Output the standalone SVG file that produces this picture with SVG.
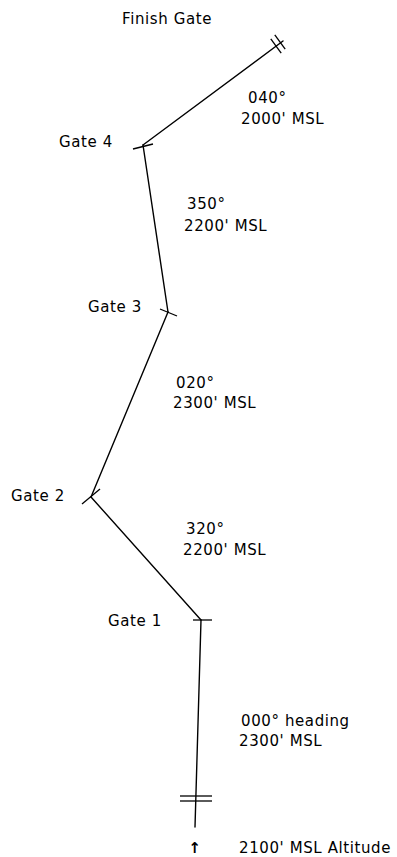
<svg xmlns="http://www.w3.org/2000/svg" width="397" height="857" viewBox="0 0 397 857">
<style>
  .t { font-family: "DejaVu Sans", "Liberation Sans", sans-serif; font-size: 15px; fill: #000; letter-spacing: 0.6px; }
  .leg { stroke: #000; stroke-width: 1.4; fill: none; stroke-linecap: round; }
  .tick { stroke: #000; stroke-width: 1.3; fill: none; }
</style>
<rect width="397" height="857" fill="#fff"/>
<g id="connectors">
  <line class="leg" x1="195" y1="827" x2="201" y2="620"/>
  <line class="leg" x1="201" y1="620" x2="91" y2="497"/>
  <line class="leg" x1="91" y1="497" x2="168" y2="312"/>
  <line class="leg" x1="168" y1="312" x2="143" y2="145"/>
  <line class="leg" x1="143" y1="145" x2="283" y2="41"/>
  <text class="t" x="248" y="103">040°</text>
  <text class="t" x="241" y="124">2000' MSL</text>
  <text class="t" x="187" y="209">350°</text>
  <text class="t" x="184" y="231">2200' MSL</text>
  <text class="t" x="176" y="388">020°</text>
  <text class="t" x="173" y="408">2300' MSL</text>
  <text class="t" x="186" y="534">320°</text>
  <text class="t" x="183" y="555">2200' MSL</text>
  <text class="t" x="241" y="726">000° heading</text>
  <text class="t" x="239" y="746">2300' MSL</text>
</g>
<g id="start">
  <line class="tick" x1="180" y1="796" x2="212" y2="796"/>
  <line class="tick" x1="180" y1="801" x2="212" y2="801"/>
  <text class="t" x="195" y="853" text-anchor="middle" font-size="14" font-weight="bold">↑</text>
  <text class="t" x="239" y="853">2100' MSL Altitude</text>
</g>
<g id="gate1">
  <line class="tick" x1="193" y1="620" x2="212" y2="620"/>
  <text class="t" x="108" y="626">Gate 1</text>
</g>
<g id="gate2">
  <line class="tick" x1="82" y1="504" x2="100" y2="489"/>
  <text class="t" x="11" y="501">Gate 2</text>
</g>
<g id="gate3">
  <line class="tick" x1="160" y1="309" x2="177" y2="316"/>
  <text class="t" x="88" y="312">Gate 3</text>
</g>
<g id="gate4">
  <line class="tick" x1="133" y1="149" x2="153" y2="144"/>
  <text class="t" x="59" y="147">Gate 4</text>
</g>
<g id="finish">
  <line class="tick" x1="270.8" y1="38.9" x2="281.2" y2="53.1"/>
  <line class="tick" x1="274.8" y1="34.9" x2="285.2" y2="49.1"/>
  <text class="t" x="122" y="24">Finish Gate</text>
</g>
</svg>
